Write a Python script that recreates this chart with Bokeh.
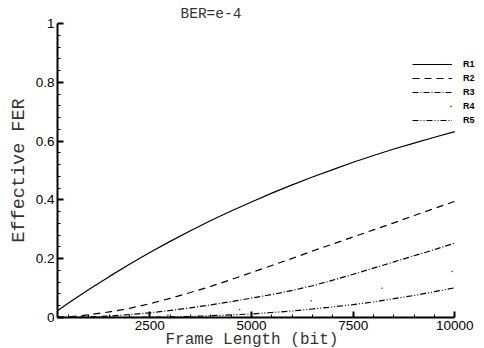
from bokeh.plotting import figure
from bokeh.models import Range1d, FixedTicker, Legend, LegendItem, Title
from bokeh.embed import file_html
from bokeh.resources import INLINE

# ---- data ----
frame_length = [230, 500, 1000, 1500, 2000, 2500, 3000, 3500, 4000, 4500, 5000,
                5500, 6000, 6500, 7000, 7500, 8000, 8500, 9000, 9500, 10000]
fer_r1 = [0.023, 0.049, 0.095, 0.139, 0.181, 0.221, 0.259, 0.295, 0.330, 0.362, 0.393,
          0.423, 0.451, 0.478, 0.503, 0.528, 0.551, 0.573, 0.593, 0.613, 0.632]
fer_r2 = [0.0005, 0.002, 0.009, 0.019, 0.031, 0.047, 0.065, 0.085, 0.106, 0.129, 0.153,
          0.177, 0.201, 0.226, 0.250, 0.274, 0.298, 0.322, 0.347, 0.371, 0.395]
fer_r3 = [0.0, 0.0003, 0.002, 0.005, 0.010, 0.016, 0.024, 0.033, 0.043, 0.054, 0.066,
          0.078, 0.092, 0.108, 0.127, 0.147, 0.168, 0.189, 0.210, 0.231, 0.253]
fer_r4 = [0.0, 0.0, 0.0005, 0.0015, 0.003, 0.005, 0.008, 0.012, 0.018, 0.024, 0.031,
          0.039, 0.048, 0.058, 0.068, 0.080, 0.093, 0.108, 0.124, 0.141, 0.159]
fer_r5 = [0.0, 0.0, 0.0, 0.0001, 0.0003, 0.001, 0.002, 0.0035, 0.006, 0.009, 0.012,
          0.017, 0.022, 0.029, 0.036, 0.044, 0.053, 0.064, 0.075, 0.088, 0.101]
series_names = ["R1", "R2", "R3", "R4", "R5"]

x_ticks = [2500, 5000, 7500, 10000]
x_minor_ticks = [500, 1000, 1500, 2000, 3000, 3500, 4000, 4500, 5500, 6000,
                 6500, 7000, 8000, 8500, 9000, 9500]
y_ticks = [0, 0.2, 0.4, 0.6, 0.8, 1]
y_tick_labels = ["0", "0.2", "0.4", "0.6", "0.8", "1"]
y_minor_ticks = [0.04, 0.08, 0.12, 0.16, 0.24, 0.28, 0.32, 0.36, 0.44, 0.48, 0.52,
                 0.56, 0.64, 0.68, 0.72, 0.76, 0.84, 0.88, 0.92, 0.96]
title_text = "BER=e-4"
x_label = "Frame Length (bit)"
y_label = "Effective FER"

MONO = "Liberation Mono"
SANS = "Liberation Sans"
TXT = "#333333"

p = figure(width=484, height=348, output_backend="svg", toolbar_location=None,
           x_range=Range1d(230, 10730), y_range=Range1d(0, 1),
           min_border_left=57, min_border_right=0, min_border_top=23,
           min_border_bottom=31)
p.outline_line_color = None
p.grid.visible = False
p.background_fill_color = "white"
p.border_fill_color = "white"

# title above the plot
p.title.text = title_text
p.title.align = "left"
p.title.offset = 123
p.title.standoff = 3
p.title.text_font = MONO
p.title.text_font_size = "14.5px"
p.title.text_font_style = "normal"
p.title.text_color = TXT

xa = p.xaxis[0]
ya = p.yaxis[0]
xa.bounds = (230, 10000)
xa.ticker = FixedTicker(ticks=x_ticks, minor_ticks=x_minor_ticks)
ya.ticker = FixedTicker(ticks=y_ticks, minor_ticks=y_minor_ticks)
ya.major_label_overrides = dict(zip(y_ticks, y_tick_labels))

for ax in (xa, ya):
    ax.axis_line_width = 2
    ax.axis_line_color = "black"
    ax.major_tick_in = 6
    ax.major_tick_out = 0
    ax.minor_tick_in = 3
    ax.minor_tick_out = 0
    ax.major_tick_line_width = 2
    ax.minor_tick_line_width = 1
    ax.major_tick_line_color = "black"
    ax.minor_tick_line_color = "black"
    ax.major_label_text_font = SANS
    ax.major_label_text_font_size = "13.5px"
    ax.major_label_text_color = "black"

xa.major_label_standoff = 3
ya.major_label_standoff = 3
ya.axis_label = y_label
ya.axis_label_text_font = MONO
ya.axis_label_text_font_size = "18.5px"
ya.axis_label_text_font_style = "normal"
ya.axis_label_text_color = TXT
ya.axis_label_standoff = 3

# x-axis caption as a title in the panel below the axis
p.add_layout(Title(text=x_label, align="left", offset=108, standoff=-4,
                   vertical_align="top",
                   text_font=MONO, text_font_size="16px",
                   text_font_style="normal", text_color=TXT), "below")

line_styles = [
    dict(line_dash="solid", line_width=1.2),
    dict(line_dash="7 5", line_width=1.2),
    dict(line_dash="6 2 1 2", line_width=1.2),
    dict(line_dash="1 71", line_dash_offset=34, line_width=1.3),
    dict(line_dash="6 2 1 2 1 2", line_width=1.2),
]
series = [fer_r1, fer_r2, fer_r3, fer_r4, fer_r5]
items = []
for name, ys, st in zip(series_names, series, line_styles):
    r = p.line(frame_length, ys, line_color="black", **st)
    items.append(LegendItem(label=name, renderers=[r]))

legend = Legend(items=items, location=(355, 190), border_line_color=None,
                background_fill_alpha=0, padding=0, spacing=0, margin=0,
                glyph_width=40, glyph_height=14, label_height=14,
                label_standoff=11, label_text_font=SANS,
                label_text_font_size="9px", label_text_font_style="bold",
                label_text_color="black")
p.add_layout(legend)

open("out.html", "w").write(file_html(p, INLINE))
